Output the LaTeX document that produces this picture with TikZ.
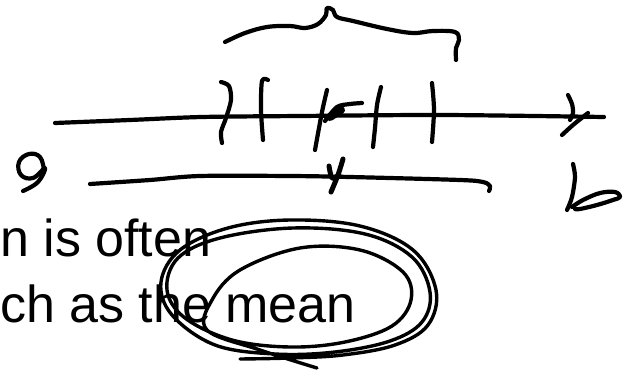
\documentclass[tikz,border=0pt]{standalone}
\usepackage{fontspec}
\setmainfont{Liberation Sans}
\begin{document}
\begin{tikzpicture}[x=1pt, y=-1pt,
    ink/.style={line width=4.2pt, line cap=round, line join=round},
    blob/.style={ink, line width=8pt},
    slide/.style={anchor=base west, inner sep=0pt,
        font=\fontsize{52}{60}\selectfont}
  ]
  \useasboundingbox (0,0) rectangle (632,372);
  % slide text
  \node[slide] (often) at (0,256) {n is often};
  \node[slide] (mean) at (0,322) {ch as the mean};
  % brace over the interval
  \draw[ink] plot[smooth, tension=0.6] coordinates {(225,42) (245,33) (267,27)
      (290,26) (305,28) (318,24) (326,15) (327,8) (333,10) (337,17) (353,21)
      (387,29) (413,33) (433,31) (455,32) (459,40) (456,48) (456,60)};
  % number line with arrow
  \draw[ink] plot[smooth] coordinates {(55,123) (130,120) (202,117) (300,116)
      (443,115) (604,117)};
  \draw[ink] plot[smooth] coordinates {(568,95) (572,104) (573,113) (570,120)};
  \draw[ink] plot[smooth] coordinates {(588,113) (573,125) (562,135)};
  % marks on the line
  \draw[ink] plot[smooth] coordinates {(221,82) (229,86) (231,100) (226,118)
      (221,132) (222,143)};
  \draw[ink] plot[smooth] coordinates {(268,80) (262,81) (261,110) (263,140)};
  \draw[ink] plot[smooth] coordinates {(327,90) (322,112) (315,150)};
  \draw[blob] (330,117) -- (341,110);
  \draw[ink] plot[smooth] coordinates {(325,121) (337,107) (350,104) (362,103)};
  \draw[ink] plot[smooth] coordinates {(381,87) (377,105) (375,128) (373,147)};
  \draw[ink] plot[smooth] coordinates {(432,83) (434,110) (432,142)};
  % lower line with its mark
  \draw[ink] plot[smooth] coordinates {(90,184) (150,180) (200,176) (290,176)
      (350,177) (460,180) (483,182) (490,186) (489,191)};
  \draw[ink, line width=5pt] plot[smooth] coordinates {(343,159) (338,175) (331,192)};
  \draw[ink, line width=5pt] plot[smooth] coordinates {(329,166) (332,178) (339,175)};
  % handwritten 9 and 10
  \draw[ink] plot[smooth, tension=0.7] coordinates {(44,170) (40,157) (29,154)
      (19,162) (21,175) (33,178) (45,168) (38,182) (23,191)};
  \draw[ink] plot[smooth] coordinates {(573,164) (575,177) (572,197) (567,210)};
  \draw[ink] plot[smooth, tension=0.6] coordinates {(572,207) (583,200) (600,193)
      (615,192) (620,197) (613,200) (597,205) (580,209) (575,209)};
  % circling the mean
  \draw[ink, line width=3.4pt] plot[smooth, tension=0.6] coordinates {(317,368)
      (260,350) (207,330) (212,300) (240,270) (300,248) (360,250) (403,272)
      (411,300) (392,326) (345,342) (290,347) (232,340) (185,318) (167,290)
      (178,258) (220,238) (293,228) (365,234) (412,257) (430,292) (422,322)
      (390,341) (335,352) (275,354) (215,345) (172,315) (161,282) (180,250)
      (228,228) (290,220) (360,226) (413,250) (436,290) (428,325) (395,345)
      (343,355) (290,358) (240,359)};
\end{tikzpicture}
\end{document}
